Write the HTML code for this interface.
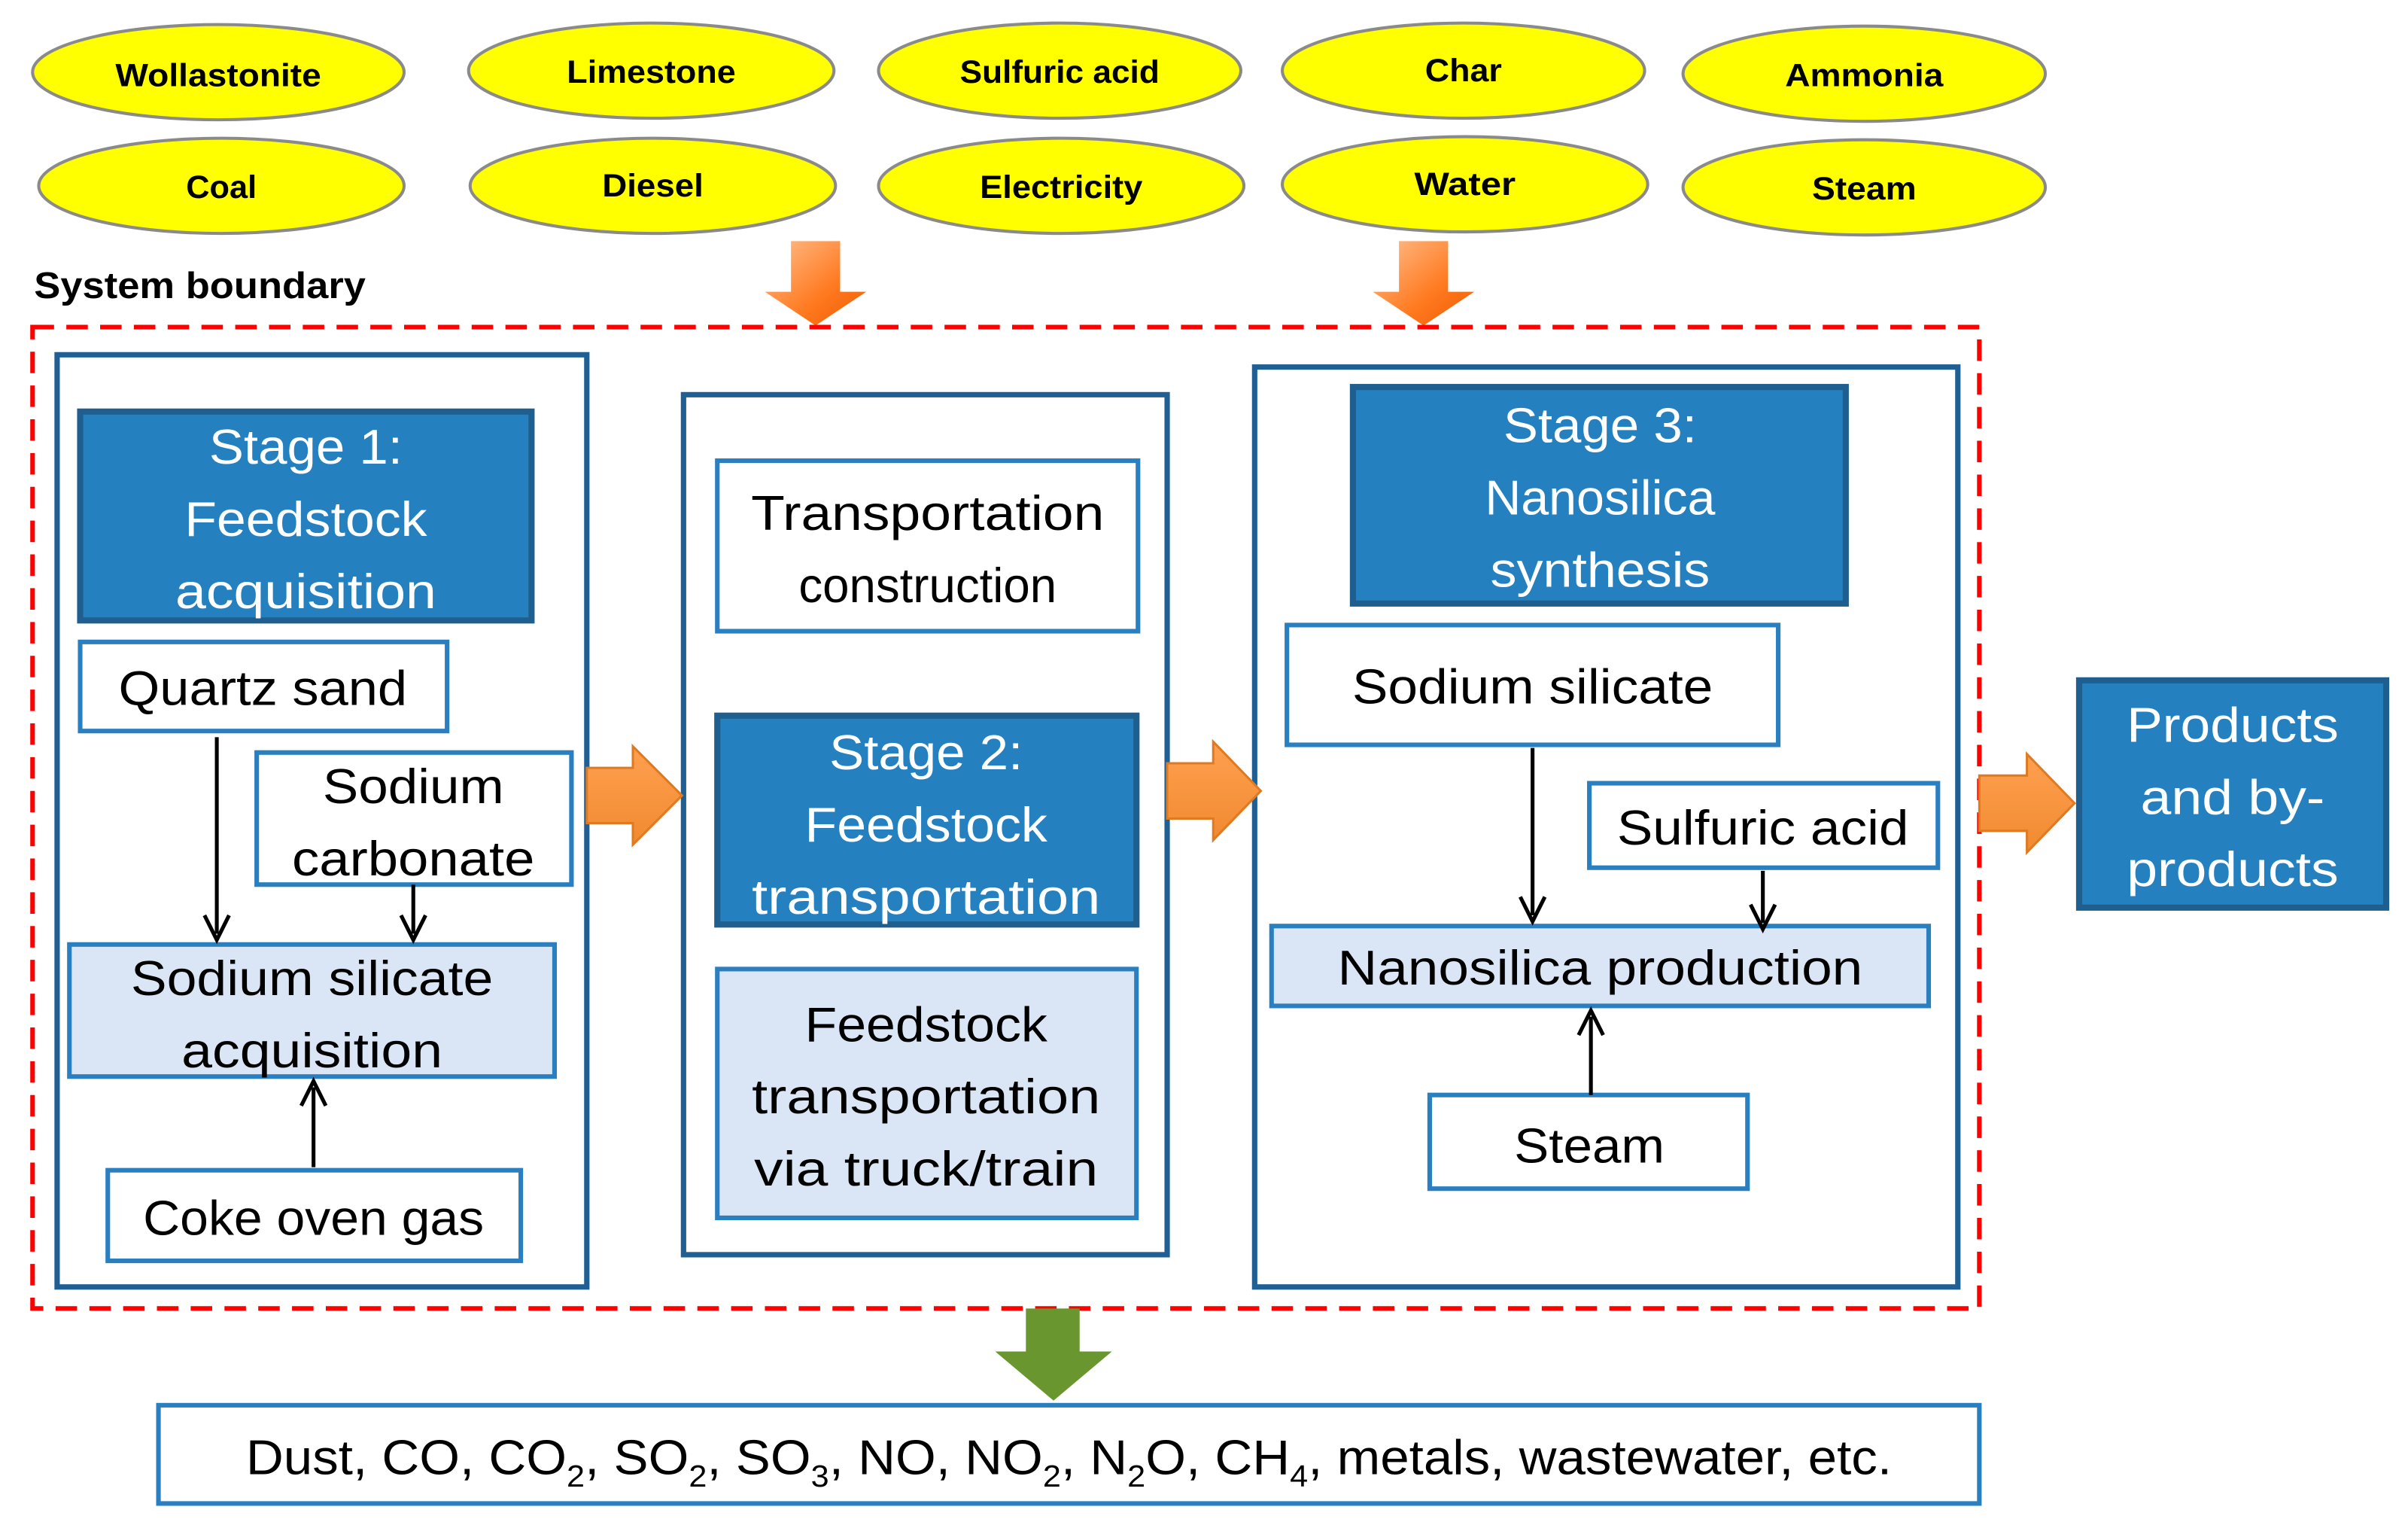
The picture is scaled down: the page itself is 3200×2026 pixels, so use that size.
<!DOCTYPE html>
<html><head><meta charset="utf-8"><style>html,body{margin:0;padding:0;background:#fff}svg{display:block}</style></head>
<body>
<svg width="3200" height="2026" viewBox="0 0 1568 993" xmlns="http://www.w3.org/2000/svg" font-family="Liberation Sans, sans-serif">
<defs>
<linearGradient id="og" x1="0" y1="0" x2="1" y2="1"><stop offset="0" stop-color="#ffc090"/><stop offset="0.6" stop-color="#ff7a20"/><stop offset="1" stop-color="#f05a00"/></linearGradient>
<linearGradient id="or" x1="0" y1="0" x2="0" y2="1"><stop offset="0" stop-color="#ffa050"/><stop offset="1" stop-color="#f08a30"/></linearGradient>
</defs>
<g stroke="#8a8a8a" stroke-width="2" fill="#ffff00">
<ellipse cx="142" cy="47" rx="121" ry="31"/><ellipse cx="424" cy="46" rx="119" ry="31"/><ellipse cx="690" cy="46" rx="118" ry="31"/><ellipse cx="953" cy="46" rx="118" ry="31"/><ellipse cx="1214" cy="48" rx="118" ry="31"/>
<ellipse cx="144" cy="121" rx="119" ry="31"/><ellipse cx="425" cy="121" rx="119" ry="31"/><ellipse cx="691" cy="121" rx="119" ry="31"/><ellipse cx="954" cy="120" rx="119" ry="31"/><ellipse cx="1214" cy="122" rx="118" ry="31"/>
</g>
<g font-weight="bold" font-size="21" text-anchor="middle" fill="#000">
<text x="142" y="56" textLength="134" lengthAdjust="spacingAndGlyphs">Wollastonite</text><text x="424" y="54" textLength="110" lengthAdjust="spacingAndGlyphs">Limestone</text><text x="690" y="54" textLength="130" lengthAdjust="spacingAndGlyphs">Sulfuric acid</text><text x="953" y="53" textLength="50" lengthAdjust="spacingAndGlyphs">Char</text><text x="1214" y="56" textLength="103" lengthAdjust="spacingAndGlyphs">Ammonia</text>
<text x="144" y="129" textLength="46" lengthAdjust="spacingAndGlyphs">Coal</text><text x="425" y="128" textLength="66" lengthAdjust="spacingAndGlyphs">Diesel</text><text x="691" y="129" textLength="106" lengthAdjust="spacingAndGlyphs">Electricity</text><text x="954" y="127" textLength="66" lengthAdjust="spacingAndGlyphs">Water</text><text x="1214" y="130" textLength="68" lengthAdjust="spacingAndGlyphs">Steam</text>
</g>
<text x="22" y="194" font-weight="bold" font-size="24" textLength="216" lengthAdjust="spacingAndGlyphs">System boundary</text>
<polygon points="515,157 547,157 547,190 564,190 531,212 498,190 515,190" fill="url(#og)"/>
<polygon points="911,157 943,157 943,190 960,190 927,212 894,190 911,190" fill="url(#og)"/>
<rect x="21" y="213" width="1268" height="639" fill="none" stroke="#ff0000" stroke-width="3" stroke-dasharray="14 8"/>
<g fill="#fff" stroke="#1f5f94" stroke-width="3.5">
<rect x="37" y="231" width="345" height="607"/><rect x="445" y="257" width="315" height="560"/><rect x="817" y="239" width="458" height="599"/>
</g>
<g fill="#2580c0" stroke="#1f5f8f" stroke-width="4">
<rect x="52" y="268" width="294" height="136"/><rect x="467" y="466" width="273" height="136"/><rect x="881" y="252" width="321" height="141"/><rect x="1354" y="443" width="200" height="148"/>
</g>
<g fill="#fff" stroke="#2a7fc0" stroke-width="3">
<rect x="52" y="418" width="239" height="58"/><rect x="167" y="490" width="205" height="86"/><rect x="70" y="762" width="269" height="59"/>
<rect x="467" y="300" width="274" height="111"/><rect x="838" y="407" width="320" height="78"/><rect x="1035" y="510" width="227" height="55"/><rect x="931" y="713" width="207" height="61"/>
<rect x="103" y="915" width="1186" height="64"/>
</g>
<g fill="#dae6f5" stroke="#2a7fc0" stroke-width="3">
<rect x="45" y="615" width="316" height="86"/><rect x="467" y="631" width="273" height="162"/><rect x="828" y="603" width="428" height="52"/>
</g>
<g stroke="#000" stroke-width="2.5" fill="none">
<line x1="141" y1="480" x2="141" y2="608"/><line x1="269" y1="576" x2="269" y2="608"/><line x1="204" y1="760" x2="204" y2="708"/>
<line x1="998" y1="487" x2="998" y2="596"/><line x1="1148" y1="567" x2="1148" y2="601"/><line x1="1036" y1="713" x2="1036" y2="662"/>
<polyline points="133,596 141,612 149,596"/><polyline points="261,596 269,612 277,596"/><polyline points="196,720 204,704 212,720"/>
<polyline points="990,584 998,600 1006,584"/><polyline points="1140,589 1148,605 1156,589"/><polyline points="1028,674 1036,658 1044,674"/>
</g>
<g fill="url(#or)" stroke="#e07a20" stroke-width="1.5">
<polygon points="382,500 412,500 412,486 444,518 412,550 412,536 382,536"/>
<polygon points="760,497 790,497 790,483 821,515 790,547 790,533 760,533"/>
<polygon points="1289,505 1320,505 1320,491 1351,523 1320,555 1320,541 1289,541"/>
</g>
<polygon points="668,852 703,852 703,880 724,880 686,912 648,880 668,880" fill="#6a9630"/>
<g fill="#fff" font-size="32" text-anchor="middle">
<text x="199" y="302" textLength="126" lengthAdjust="spacingAndGlyphs">Stage 1:</text><text x="199" y="349" textLength="158" lengthAdjust="spacingAndGlyphs">Feedstock</text><text x="199" y="396" textLength="170" lengthAdjust="spacingAndGlyphs">acquisition</text>
<text x="603" y="501" textLength="126" lengthAdjust="spacingAndGlyphs">Stage 2:</text><text x="603" y="548" textLength="158" lengthAdjust="spacingAndGlyphs">Feedstock</text><text x="603" y="595" textLength="227" lengthAdjust="spacingAndGlyphs">transportation</text>
<text x="1042" y="288" textLength="126" lengthAdjust="spacingAndGlyphs">Stage 3:</text><text x="1042" y="335" textLength="150" lengthAdjust="spacingAndGlyphs">Nanosilica</text><text x="1042" y="382" textLength="143" lengthAdjust="spacingAndGlyphs">synthesis</text>
<text x="1454" y="483" textLength="138" lengthAdjust="spacingAndGlyphs">Products</text><text x="1454" y="530" textLength="120" lengthAdjust="spacingAndGlyphs">and by-</text><text x="1454" y="577" textLength="138" lengthAdjust="spacingAndGlyphs">products</text>
</g>
<g fill="#000" font-size="32" text-anchor="middle">
<text x="171" y="459" textLength="188" lengthAdjust="spacingAndGlyphs">Quartz sand</text>
<text x="269" y="523" textLength="118" lengthAdjust="spacingAndGlyphs">Sodium</text><text x="269" y="570" textLength="158" lengthAdjust="spacingAndGlyphs">carbonate</text>
<text x="203" y="648" textLength="236" lengthAdjust="spacingAndGlyphs">Sodium silicate</text><text x="203" y="695" textLength="170" lengthAdjust="spacingAndGlyphs">acquisition</text>
<text x="204" y="804" textLength="222" lengthAdjust="spacingAndGlyphs">Coke oven gas</text>
<text x="604" y="345" textLength="230" lengthAdjust="spacingAndGlyphs">Transportation</text><text x="604" y="392" textLength="168" lengthAdjust="spacingAndGlyphs">construction</text>
<text x="603" y="678" textLength="158" lengthAdjust="spacingAndGlyphs">Feedstock</text><text x="603" y="725" textLength="227" lengthAdjust="spacingAndGlyphs">transportation</text><text x="603" y="772" textLength="224" lengthAdjust="spacingAndGlyphs">via truck/train</text>
<text x="998" y="458" textLength="235" lengthAdjust="spacingAndGlyphs">Sodium silicate</text>
<text x="1148" y="550" textLength="190" lengthAdjust="spacingAndGlyphs">Sulfuric acid</text>
<text x="1042" y="641" textLength="342" lengthAdjust="spacingAndGlyphs">Nanosilica production</text>
<text x="1035" y="757" textLength="98" lengthAdjust="spacingAndGlyphs">Steam</text>
<text x="696" y="960" textLength="1072" lengthAdjust="spacingAndGlyphs">Dust, CO, CO<tspan font-size="20" dy="8">2</tspan><tspan dy="-8">, SO</tspan><tspan font-size="20" dy="8">2</tspan><tspan dy="-8">, SO</tspan><tspan font-size="20" dy="8">3</tspan><tspan dy="-8">, NO, NO</tspan><tspan font-size="20" dy="8">2</tspan><tspan dy="-8">, N</tspan><tspan font-size="20" dy="8">2</tspan><tspan dy="-8">O, CH</tspan><tspan font-size="20" dy="8">4</tspan><tspan dy="-8">, metals, wastewater, etc.</tspan></text>
</g>
</svg>
</body></html>
